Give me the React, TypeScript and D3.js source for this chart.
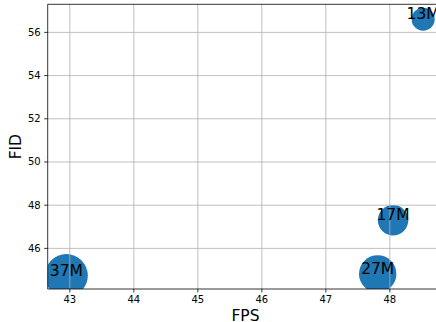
import React from "react";
import * as d3 from "d3";

// model size labels, FPS (x), FID (y), marker area (pt^2)
const labels = ["37M", "27M", "17M", "13M"];
const fps = [42.945, 47.81, 48.05, 48.52];
const fid = [44.74, 44.82, 47.3, 56.61];
const sizes = [1850, 1400, 925, 530];

const xTicks = [43, 44, 45, 46, 47, 48];
const yTicks = [46, 48, 50, 52, 54, 56];

const W = 436;
const H = 322;
const left = 47.7;
const right = 443.3;
const top = 4.3;
const bottom = 289;
const font = "DejaVu Sans, sans-serif";

export default function App() {
  const x = d3.scaleLinear().domain([42.654, 48.835]).range([left, right]);
  const y = d3.scaleLinear().domain([44.12, 57.3]).range([bottom, top]);
  const r = d3.scaleSqrt().domain([0, 1850]).range([0, 21.5]);

  return (
    <svg
      width={W}
      height={H}
      style={{ position: "absolute", left: 0, top: 0, background: "#fff" }}
    >
      <defs>
        <clipPath id="plot">
          <rect x={left} y={top} width={right - left} height={bottom - top} />
        </clipPath>
      </defs>

      <g clipPath="url(#plot)">
        {fps.map((d, i) => (
          <circle key={i} cx={x(d)} cy={y(fid[i])} r={r(sizes[i])} fill="#1f77b4" />
        ))}
        {/* grid sits above the markers, like matplotlib */}
        {xTicks.map((t) => (
          <line key={"gx" + t} x1={x(t)} x2={x(t)} y1={top} y2={bottom} stroke="#b0b0b0" strokeWidth={0.8} />
        ))}
        {yTicks.map((t) => (
          <line key={"gy" + t} x1={left} x2={right} y1={y(t)} y2={y(t)} stroke="#b0b0b0" strokeWidth={0.8} />
        ))}
        {fps.map((d, i) => (
          <text
            key={"l" + i}
            x={x(d)}
            y={y(fid[i])}
            textAnchor="middle"
            fontFamily={font}
            fontSize={15.5}
            fill="#000"
          >
            {labels[i]}
          </text>
        ))}
      </g>

      {/* spines */}
      <line x1={left} x2={left} y1={top} y2={bottom} stroke="#000" strokeWidth={0.8} />
      <line x1={left} x2={right} y1={bottom} y2={bottom} stroke="#000" strokeWidth={0.8} />
      <line x1={left} x2={right} y1={top} y2={top} stroke="#000" strokeWidth={0.8} />
      <line x1={right} x2={right} y1={top} y2={bottom} stroke="#000" strokeWidth={0.8} />

      {xTicks.map((t) => (
        <g key={"tx" + t} transform={`translate(${x(t)},${bottom})`}>
          <line y2={3.5} stroke="#000" strokeWidth={0.8} />
          <text y={14.3} textAnchor="middle" fontFamily={font} fontSize={10} fill="#000">
            {t}
          </text>
        </g>
      ))}
      {yTicks.map((t) => (
        <g key={"ty" + t} transform={`translate(${left},${y(t)})`}>
          <line x2={-3.5} stroke="#000" strokeWidth={0.8} />
          <text x={-7} dy="0.35em" textAnchor="end" fontFamily={font} fontSize={10} fill="#000">
            {t}
          </text>
        </g>
      ))}

      <text x={(left + right) / 2} y={321} textAnchor="middle" fontFamily={font} fontSize={15.5} fill="#000">
        FPS
      </text>
      <text
        transform={`translate(21,${(top + bottom) / 2}) rotate(-90)`}
        textAnchor="middle"
        fontFamily={font}
        fontSize={15.5}
        fill="#000"
      >
        FID
      </text>
    </svg>
  );
}
